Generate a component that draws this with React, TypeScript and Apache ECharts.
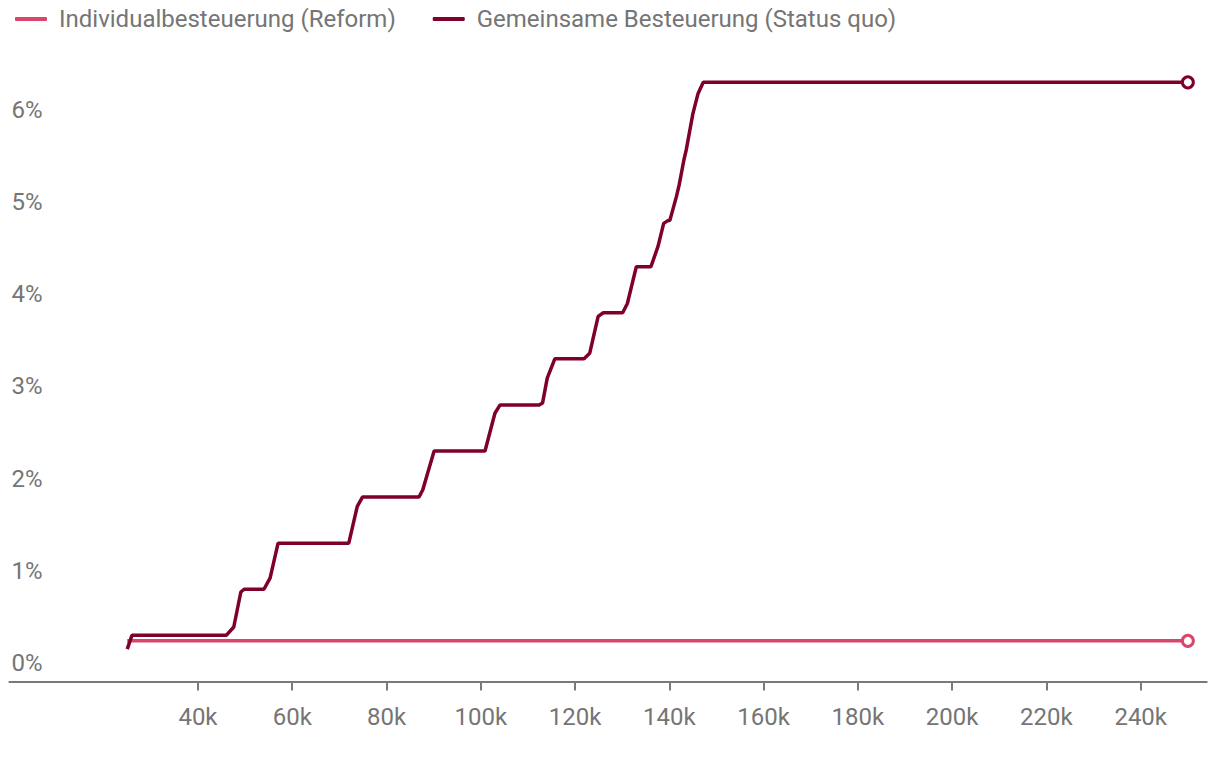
import React, { useEffect, useRef } from "react";
import * as echarts from "echarts";

// Taxable household income (EUR) and additional burden/advantage in percent
const incomeStatusQuo = [
  25000, 26000, 46000, 47600, 49100, 49800, 54000, 55300, 57000, 72000,
  73800, 74900, 86900, 87700, 90100, 100900, 103000, 104100, 112400, 113100,
  114100, 115700, 121900, 123100, 124900, 126000, 130100, 131100, 133000, 136100,
  137600, 138800, 139700, 140100, 141500, 142100, 143100, 143600, 145000, 146100,
  147200, 250000,
];
const statusQuoValues = [
  0.15, 0.3, 0.3, 0.39, 0.77, 0.8, 0.8, 0.92, 1.3, 1.3,
  1.7, 1.8, 1.8, 1.88, 2.3, 2.3, 2.71, 2.8, 2.8, 2.82,
  3.09, 3.3, 3.3, 3.36, 3.76, 3.8, 3.8, 3.9, 4.3, 4.3,
  4.52, 4.77, 4.8, 4.8, 5.06, 5.19, 5.46, 5.57, 5.96, 6.18,
  6.3, 6.3,
];
const incomeReform = [25000, 250000];
const reformValues = [0.24, 0.24];

const seriesNames = [
  "Individualbesteuerung (Reform)",
  "Gemeinsame Besteuerung (Status quo)",
];
const xTickValues = [40000, 60000, 80000, 100000, 120000, 140000, 160000, 180000, 200000, 220000, 240000];
const yTickValues = [0, 1, 2, 3, 4, 5, 6];

const COLOR_REFORM = "#d8466a";
const COLOR_STATUS_QUO = "#7f0029";
const TEXT_COLOR = "#757575";
const AXIS_COLOR = "#7a7a7a";
const FONT = "Roboto, 'Noto Sans', sans-serif";

function buildData(xs: number[], ys: number[], color: string) {
  return xs.map((x, i) =>
    i === xs.length - 1
      ? {
          value: [x, ys[i]],
          symbol: "circle",
          symbolSize: 11,
          itemStyle: { color: "#ffffff", borderColor: color, borderWidth: 3 },
        }
      : [x, ys[i]]
  );
}

export default function App() {
  const ref = useRef<HTMLDivElement>(null);

  useEffect(() => {
    if (!ref.current) return;
    const chart = echarts.init(ref.current, null, { renderer: "svg" });
    chart.setOption({
      animation: false,
      backgroundColor: "#ffffff",
      textStyle: { fontFamily: FONT },
      legend: {
        left: 10,
        top: 2,
        itemWidth: 32,
        itemHeight: 4,
        itemGap: 37,
        icon: "roundRect",
        selectedMode: false,
        textStyle: {
          fontFamily: FONT,
          fontSize: 24,
          color: TEXT_COLOR,
          padding: [0, 0, 0, 7],
        },
        data: seriesNames,
      },
      grid: {
        left: 9.4,
        right: 13.3,
        top: 54.7,
        bottom: 92.6,
        containLabel: false,
      },
      xAxis: {
        type: "value",
        min: 0,
        max: 254000,
        splitLine: { show: false },
        axisLine: { onZero: false, lineStyle: { color: AXIS_COLOR, width: 2 } },
        axisTick: {
          show: true,
          customValues: xTickValues,
          length: 9,
          lineStyle: { color: AXIS_COLOR, width: 2 },
        },
        axisLabel: {
          customValues: xTickValues,
          formatter: (v: number) => v / 1000 + "k",
          fontFamily: FONT,
          fontSize: 24,
          color: TEXT_COLOR,
          margin: 24,
        },
      },
      yAxis: {
        type: "value",
        min: -0.2,
        max: 6.6,
        splitLine: { show: false },
        axisLine: { show: false },
        axisTick: { show: false },
        axisLabel: {
          inside: true,
          margin: 2,
          customValues: yTickValues,
          formatter: "{value}%",
          fontFamily: FONT,
          fontSize: 24,
          color: TEXT_COLOR,
        },
      },
      series: [
        {
          name: seriesNames[0],
          type: "line",
          symbol: "none",
          showSymbol: true,
          silent: true,
          lineStyle: { color: COLOR_REFORM, width: 3.5 },
          itemStyle: { color: COLOR_REFORM },
          data: buildData(incomeReform, reformValues, COLOR_REFORM),
        },
        {
          name: seriesNames[1],
          type: "line",
          symbol: "none",
          showSymbol: true,
          silent: true,
          lineStyle: { color: COLOR_STATUS_QUO, width: 3.5 },
          itemStyle: { color: COLOR_STATUS_QUO },
          data: buildData(incomeStatusQuo, statusQuoValues, COLOR_STATUS_QUO),
        },
      ],
    });
    return () => chart.dispose();
  }, []);

  return (
    <div
      ref={ref}
      style={{ position: "absolute", left: 0, top: 0, width: 1220, height: 774 }}
    />
  );
}
